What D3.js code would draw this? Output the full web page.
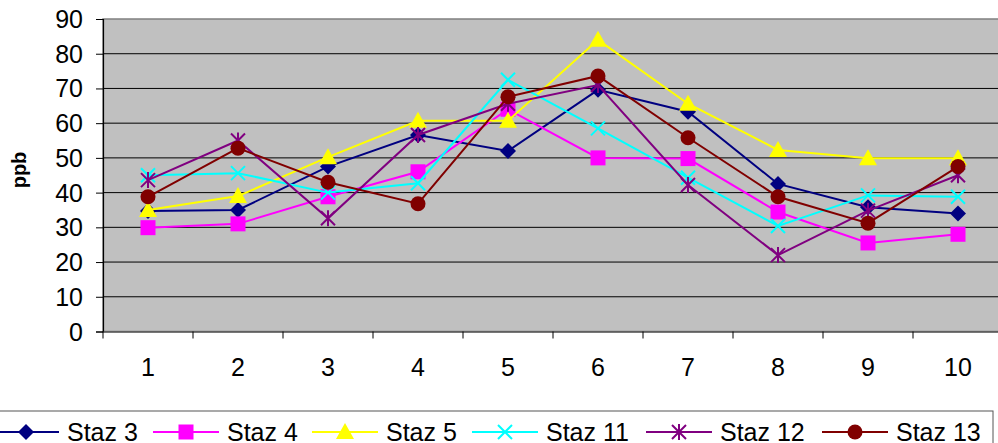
<!DOCTYPE html>
<html>
<head>
    <script src="https://cdnjs.cloudflare.com/ajax/libs/d3/7.8.5/d3.min.js"></script>
    <style>
        body { margin: 0; background: #fff; overflow: hidden; }
        text { font-family: "Liberation Sans", Arial, sans-serif; fill: #000; }
    </style>
</head>
<body>
    <svg id="chart"></svg>
    <script>
        const width = 998, height = 443;

        // data
        const categories = ["1", "2", "3", "4", "5", "6", "7", "8", "9", "10"];
        const yTicks = [0, 10, 20, 30, 40, 50, 60, 70, 80, 90];
        const staz3  = [34.7, 35.0, 47.5, 56.6, 52.0, 69.6, 63.3, 42.5, 35.8, 34.0];
        const staz4  = [29.9, 31.0, 38.8, 46.0, 64.0, 50.0, 49.8, 34.4, 25.5, 28.0];
        const staz5  = [35.0, 39.0, 50.2, 60.7, 60.7, 84.0, 65.6, 52.3, 49.9, 49.9];
        const staz11 = [45.0, 45.6, 40.0, 42.7, 72.5, 58.5, 44.3, 30.4, 39.2, 38.8];
        const staz12 = [43.6, 55.0, 32.6, 56.6, 65.6, 71.0, 42.2, 22.0, 34.8, 45.0];
        const staz13 = [38.8, 52.8, 43.0, 36.8, 67.6, 73.6, 55.8, 38.8, 31.2, 47.5];

        const seriesNames = ["Staz 3", "Staz 4", "Staz 5", "Staz 11", "Staz 12", "Staz 13"];
        const seriesValues = [staz3, staz4, staz5, staz11, staz12, staz13];
        const colors = ["#000080", "#ff00ff", "#ffff00", "#00ffff", "#800080", "#800000"];
        const shapes = ["diamond", "square", "triangle", "x", "star", "circle"];

        const margin = {left: 103, top: 19, plotRight: 1003, bottom: 331.5};
        const fontSize = "25px";

        const svg = d3.select("#chart").attr("width", width).attr("height", height);

        const x = d3.scaleBand().domain(categories).range([margin.left, margin.plotRight]);
        const y = d3.scaleLinear().domain([0, 90]).range([margin.bottom, margin.top]);

        // plot background
        svg.append("rect")
            .attr("x", margin.left).attr("y", margin.top)
            .attr("width", margin.plotRight - margin.left)
            .attr("height", margin.bottom - margin.top)
            .attr("fill", "#c0c0c0")
            .attr("stroke", "#808080").attr("stroke-width", 1.5);

        // gridlines
        svg.append("g").selectAll("line")
            .data(yTicks.filter(d => d > 0 && d < 90))
            .enter().append("line")
            .attr("x1", margin.left).attr("x2", margin.plotRight)
            .attr("y1", d => y(d)).attr("y2", d => y(d))
            .attr("stroke", "#000").attr("stroke-width", 1);

        // y axis
        const yAxis = svg.append("g")
            .attr("transform", `translate(${margin.left},0)`)
            .call(d3.axisLeft(y).tickValues(yTicks).tickSize(7).tickPadding(13));
        yAxis.select(".domain").attr("stroke", "#000").attr("stroke-width", 1.2);
        yAxis.selectAll(".tick line").attr("stroke", "#000");
        yAxis.selectAll("text")
            .style("font-size", fontSize)
            .style("font-family", "Liberation Sans, Arial, sans-serif")
            .attr("fill", "#000")
            .attr("dy", "0.34em");

        // x axis
        const xAxis = svg.append("g")
            .attr("transform", `translate(0,${margin.bottom})`)
            .call(d3.axisBottom(x).tickSize(0));
        xAxis.select(".domain").attr("stroke", "#555").attr("stroke-width", 1.5);
        xAxis.selectAll("text")
            .style("font-size", fontSize)
            .style("font-family", "Liberation Sans, Arial, sans-serif")
            .attr("fill", "#000")
            .attr("y", 44.5).attr("dy", 0);
        xAxis.selectAll(".sep")
            .data(categories)
            .enter().append("line")
            .attr("class", "sep")
            .attr("x1", d => x(d)).attr("x2", d => x(d))
            .attr("y1", 0).attr("y2", 7)
            .attr("stroke", "#000");

        // y label
        svg.append("text")
            .attr("transform", "translate(26,170) rotate(-90)")
            .attr("text-anchor", "middle")
            .style("font-size", "20px").style("font-weight", "bold")
            .text("ppb");

        function marker(g, shape, color, cx, cy) {
            if (shape === "diamond") {
                g.append("path").attr("d", `M${cx},${cy-8}L${cx+8},${cy}L${cx},${cy+8}L${cx-8},${cy}Z`).attr("fill", color);
            } else if (shape === "square") {
                g.append("rect").attr("x", cx - 7.5).attr("y", cy - 7.5).attr("width", 15).attr("height", 15).attr("fill", color);
            } else if (shape === "triangle") {
                g.append("path").attr("d", `M${cx},${cy-9}L${cx+9},${cy+7}L${cx-9},${cy+7}Z`).attr("fill", color);
            } else if (shape === "circle") {
                g.append("circle").attr("cx", cx).attr("cy", cy).attr("r", 7.5).attr("fill", color);
            } else if (shape === "x") {
                g.append("path").attr("d", `M${cx-7},${cy-7}L${cx+7},${cy+7}M${cx-7},${cy+7}L${cx+7},${cy-7}`)
                    .attr("stroke", color).attr("stroke-width", 2);
            } else if (shape === "star") {
                g.append("path").attr("d", `M${cx-7},${cy-7}L${cx+7},${cy+7}M${cx-7},${cy+7}L${cx+7},${cy-7}M${cx},${cy-8}L${cx},${cy+8}`)
                    .attr("stroke", color).attr("stroke-width", 2);
            }
        }

        const line = d3.line()
            .x((d, i) => x(categories[i]) + x.bandwidth() / 2)
            .y(d => y(d));

        seriesValues.forEach((vals, s) => {
            const g = svg.append("g");
            g.append("path")
                .datum(vals)
                .attr("d", line)
                .attr("fill", "none")
                .attr("stroke", colors[s])
                .attr("stroke-width", 2);
            vals.forEach((v, i) => {
                marker(g, shapes[s], colors[s], x(categories[i]) + x.bandwidth() / 2, y(v));
            });
        });

        // legend
        const legend = svg.append("g");
        legend.append("rect")
            .attr("x", -5).attr("y", 411)
            .attr("width", 998).attr("height", 60)
            .attr("fill", "#fff").attr("stroke", "#555").attr("stroke-width", 1);
        const legendX = [-7, 153, 312, 472, 646, 822];
        seriesNames.forEach((name, s) => {
            const lx = legendX[s], ly = 432;
            legend.append("line")
                .attr("x1", lx).attr("x2", lx + 66)
                .attr("y1", ly).attr("y2", ly)
                .attr("stroke", colors[s]).attr("stroke-width", 2);
            marker(legend, shapes[s], colors[s], lx + 33, ly);
            legend.append("text")
                .attr("x", lx + 74).attr("y", 441)
                .style("font-size", fontSize)
                .text(name);
        });
    </script>
</body>
</html>
